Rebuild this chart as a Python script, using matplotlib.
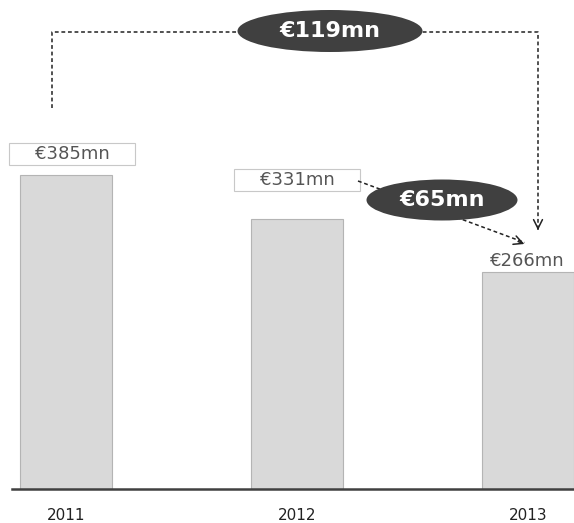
import numpy as np
import matplotlib.pyplot as plt
from matplotlib.patches import Ellipse

# data
years = ["2011", "2012", "2013"]
values = [385, 331, 266]
labels = ["€%dmn" % v for v in values]
drop_total = values[0] - values[2]   # 119
drop_last = values[1] - values[2]    # 65

W, H = 574, 523
PX_PER_UNIT = 0.816      # pixels per €mn on the y axis
BASE = 488.7             # baseline, pixels from top
X0, DX = 66, 231         # first bar centre and spacing, pixels

fig = plt.figure(figsize=(W / 100, H / 100), dpi=100)
ax = fig.add_axes([12 / W, (H - BASE) / H, (W - 12) / W, BASE / H])

x = np.arange(len(years))
ax.bar(x, values, width=0.4, color="#d9d9d9", edgecolor="#b4b4b4", linewidth=0.8, zorder=2)

ax.set_xlim(-(X0 - 12) / DX, (W - X0) / DX)
ax.set_ylim(0, BASE / PX_PER_UNIT)
ax.set_xticks(x)
ax.set_xticklabels(years, fontsize=11, color="#222222")
ax.tick_params(axis="x", length=0, pad=14)
ax.set_yticks([])
for s in ["top", "left", "right"]:
    ax.spines[s].set_visible(False)
ax.spines["bottom"].set_color("#404040")
ax.spines["bottom"].set_linewidth(1.8)


def px2data(px, py):
    # pixel (from top-left of the figure) -> data coords
    return (px - X0) / DX, (BASE - py) / PX_PER_UNIT


# value labels
boxed = dict(boxstyle="square,pad=0.12", fc="white", ec="#c8c8c8", lw=0.8)
label_pos = [(72, 154), (297, 180), (527, 261)]
for i, (lab, (px, py)) in enumerate(zip(labels, label_pos)):
    tx, ty = px2data(px, py)
    txt = "    " + lab + "    " if i < 2 else lab
    ax.text(tx, ty, txt, ha="center", va="center", fontsize=13, color="#555555",
            bbox=boxed if i < 2 else None, zorder=3)

dash = dict(color="#222222", lw=1.1, linestyle=(0, (2.5, 1.8)), zorder=3, clip_on=False)

# total decline bracket 2011 -> 2013
ax1, ay1 = px2data(52, 108)
ax2, ay2 = px2data(538, 32)
_, ay3 = px2data(538, 233)
ax.plot([ax1, ax1, ax2, ax2], [ay1, ay2, ay2, ay3 + 2], **dash)
ax.annotate("", xy=(ax2, ay3), xytext=(ax2, ay3 + 10),
            arrowprops=dict(arrowstyle="->", color="#222222", lw=1.1, mutation_scale=16), zorder=3)

# 2012 -> 2013 connector
bx1, by1 = px2data(358, 181)
bx2, by2 = px2data(527, 245)
ax.plot([bx1, bx2 - 0.01], [by1, by2 + 3], **dash)
ax.annotate("", xy=(bx2, by2), xytext=(bx2 - 0.05, by2 + 5.5),
            arrowprops=dict(arrowstyle="->", color="#222222", lw=1.1, mutation_scale=16), zorder=3)

# change bubbles
bubbles = [("€%dmn" % drop_total, (330, 31), 185, 42),
           ("€%dmn" % drop_last, (442, 200), 151, 41)]
for txt, (px, py), ew, eh in bubbles:
    cx, cy = px2data(px, py)
    ax.add_patch(Ellipse((cx, cy), ew / DX, eh / PX_PER_UNIT, fc="#404040", ec="none",
                         zorder=4, clip_on=False))
    ax.text(cx, cy, txt, ha="center", va="center", fontsize=16, fontweight="bold",
            color="white", zorder=5)

fig.savefig("out.png", dpi=100)
